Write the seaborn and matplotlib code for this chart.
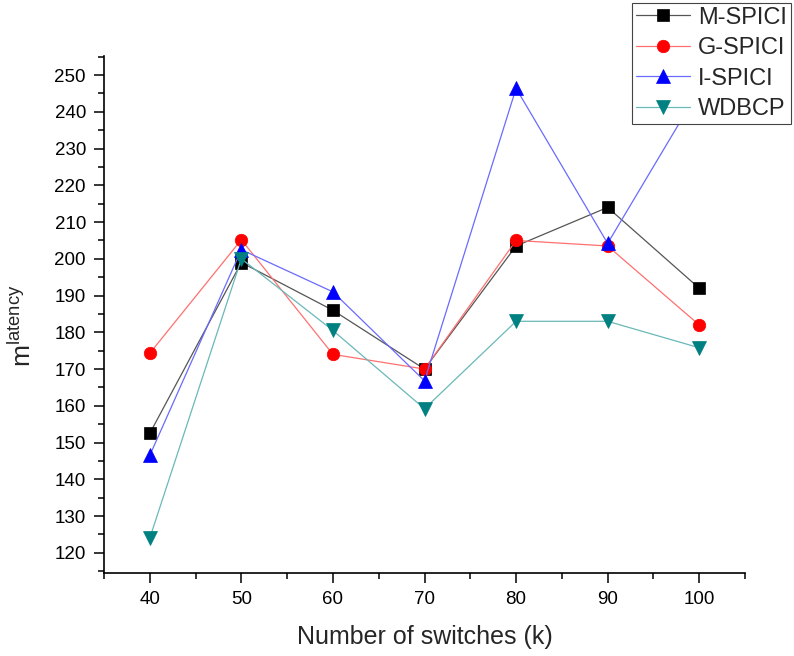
import matplotlib
matplotlib.use("Agg")
import matplotlib.pyplot as plt
import seaborn as sns
import numpy as np
import pandas as pd
from matplotlib.ticker import MultipleLocator

# Number of switches (k)
switches = [40, 50, 60, 70, 80, 90, 100]

# Latency metric per method
m_spici = [152.5, 199.0, 186.0, 170.0, 203.5, 214.0, 192.0]
g_spici = [174.3, 205.2, 174.0, 170.0, 205.0, 203.5, 182.0]
i_spici = [146.5, 202.5, 191.0, 166.8, 246.4, 204.2, 246.0]
wdbcp = [124.0, 200.0, 180.5, 159.2, 183.0, 183.0, 175.8]

series_names = ["M-SPICI", "G-SPICI", "I-SPICI", "WDBCP"]
series_values = [m_spici, g_spici, i_spici, wdbcp]

sns.set_style("ticks")
plt.rcParams["font.family"] = ["Liberation Sans", "DejaVu Sans"]
plt.rcParams["mathtext.default"] = "regular"

fig = plt.figure(figsize=(7.94, 6.56), dpi=100)
ax = fig.add_axes([104 / 794, 83 / 656, 641 / 794, 517 / 656])

marker_colors = ["#000000", "#ff0000", "#0000ff", "#008080"]
line_colors = ["#555555", "#ff7070", "#6a6aff", "#6ab8b8"]
markers = ["s", "o", "^", "v"]
msizes = [8.5, 9.0, 9.5, 9.5]

for name, vals, mc, lc, mk, ms in zip(series_names, series_values,
                                      marker_colors, line_colors, markers, msizes):
    df = pd.DataFrame({"k": switches, "latency": vals})
    sns.lineplot(data=df, x="k", y="latency", ax=ax, color=lc, linewidth=0.9,
                 marker=mk, markersize=ms, markerfacecolor=mc,
                 markeredgecolor=mc, markeredgewidth=0.5, label=name,
                 clip_on=True)

ax.set_xlim(35, 105)
ax.set_ylim(114.5, 255.2)
ax.xaxis.set_major_locator(MultipleLocator(10))
ax.xaxis.set_minor_locator(MultipleLocator(5))
ax.yaxis.set_major_locator(MultipleLocator(10))
ax.yaxis.set_minor_locator(MultipleLocator(5))

sns.despine(ax=ax)
for side in ["left", "bottom"]:
    ax.spines[side].set_linewidth(1.2)
    ax.spines[side].set_color("black")

ax.tick_params(which="major", direction="out", length=7, width=1.1,
               labelsize=13.5, pad=6, colors="black")
ax.tick_params(which="minor", direction="out", length=4, width=1.1,
               colors="black")

ax.set_xlabel("Number of switches (k)", fontsize=18, labelpad=12)
ax.set_ylabel("m$^{latency}$", fontsize=19)
ax.yaxis.set_label_coords(-0.106, 0.478)

leg = ax.legend(loc="upper left", bbox_to_anchor=(632 / 794, 1 - 3 / 656),
                bbox_transform=fig.transFigure, fontsize=17, frameon=True,
                fancybox=False, edgecolor="#444444", framealpha=1,
                borderpad=0.15, borderaxespad=0, handlelength=2.3,
                handletextpad=0.35, labelspacing=0.36)
leg.get_frame().set_linewidth(0.8)

fig.savefig("out.png", dpi=100)
